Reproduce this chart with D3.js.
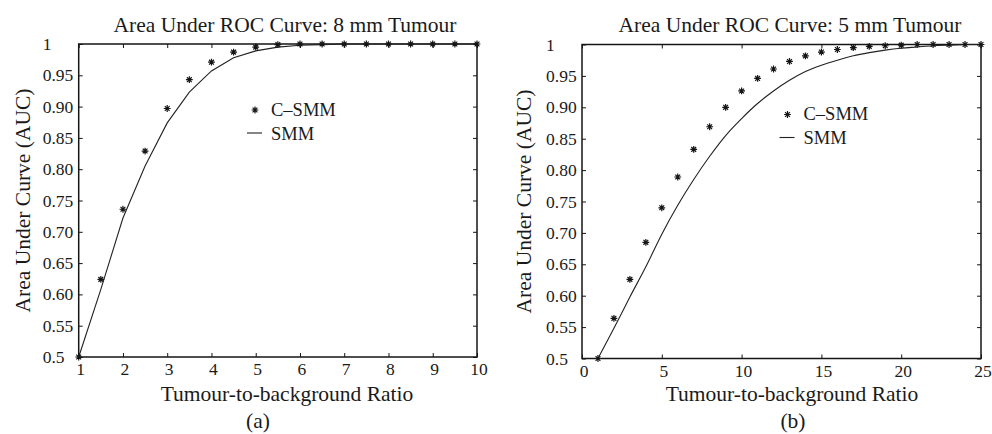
<!DOCTYPE html>
<html>
<head>
<meta charset="utf-8">
<script src="https://cdn.jsdelivr.net/npm/d3@7"></script>
<style>
  html, body { margin: 0; padding: 0; background: #fff; }
  svg { display: block; }
  text { font-family: "Liberation Serif", "Times New Roman", "DejaVu Serif", serif; fill: #1a1a1a; }
</style>
</head>
<body>
<svg id="fig" width="992" height="434"></svg>
<script>
// Tumour-to-background ratios and AUC values, 8 mm tumour
const ratioA = [1, 1.5, 2, 2.5, 3, 3.5, 4, 4.5, 5, 5.5, 6, 6.5, 7, 7.5, 8, 8.5, 9, 9.5, 10];
const csmmA  = [0.5, 0.624, 0.736, 0.829, 0.897, 0.943, 0.971, 0.987, 0.995, 0.999, 1, 1, 1, 1, 1, 1, 1, 1, 1];
const smmA   = [0.5, 0.608, 0.722, 0.805, 0.874, 0.923, 0.957, 0.978, 0.989, 0.995, 0.998, 0.999, 1, 1, 1, 1, 1, 1, 1];

// Tumour-to-background ratios and AUC values, 5 mm tumour
const ratioB = [1, 2, 3, 4, 5, 6, 7, 8, 9, 10, 11, 12, 13, 14, 15, 16, 17, 18, 19, 20, 21, 22, 23, 24, 25];
const csmmB  = [0.5, 0.564, 0.626, 0.685, 0.740, 0.789, 0.833, 0.869, 0.900, 0.926, 0.946, 0.961, 0.973,
                0.982, 0.988, 0.992, 0.995, 0.997, 0.998, 0.999, 1, 1, 1, 1, 1];
const smmB   = [0.5, 0.548, 0.598, 0.646, 0.698, 0.744, 0.785, 0.822, 0.855, 0.882, 0.906, 0.926, 0.943,
                0.957, 0.967, 0.975, 0.982, 0.987, 0.991, 0.994, 0.996, 0.998, 0.999, 1, 1];

// Axis ticks
const yTicks = [0.5, 0.55, 0.6, 0.65, 0.7, 0.75, 0.8, 0.85, 0.9, 0.95, 1];
const yTickLabels = ["0.5", "0.55", "0.60", "0.65", "0.70", "0.75", "0.80", "0.85", "0.90", "0.95", "1"];
const xTicksA = [1, 2, 3, 4, 5, 6, 7, 8, 9, 10];
const xTicksB = [0, 5, 10, 15, 20, 25];

const seriesNames = ["C\u2013SMM", "SMM"];
const titles = ["Area Under ROC Curve: 8 mm Tumour", "Area Under ROC Curve: 5 mm Tumour"];
const xLabel = "Tumour-to-background Ratio";
const yLabel = "Area Under Curve (AUC)";
const panelTags = ["(a)", "(b)"];

const svg = d3.select("#fig");
const INK = "#151515";

// Asterisk marker: a plus overlaid with a cross
function asterisk(cx, cy, r) {
  const p = d3.path();
  const d = r * Math.SQRT1_2;
  p.moveTo(cx - r, cy); p.lineTo(cx + r, cy);
  p.moveTo(cx, cy - r); p.lineTo(cx, cy + r);
  p.moveTo(cx - d, cy - d); p.lineTo(cx + d, cy + d);
  p.moveTo(cx - d, cy + d); p.lineTo(cx + d, cy - d);
  return p.toString();
}

function drawPanel(cfg) {
  const g = svg.append("g");
  const x = d3.scaleLinear().domain(cfg.xDomain).range([cfg.left, cfg.right]);
  const y = d3.scaleLinear().domain([0.5, 1]).range([cfg.bottom, cfg.top]);
  const tickLen = 4;

  // Inward ticks on all four sides
  const axisStyle = sel => {
    sel.select(".domain").remove();
    sel.selectAll(".tick line").attr("stroke", INK).attr("stroke-width", 1);
  };
  g.append("g").attr("transform", `translate(0,${cfg.bottom})`)
    .call(d3.axisTop(x).tickValues(cfg.xTicks).tickSize(tickLen).tickFormat(""))
    .call(axisStyle);
  g.append("g").attr("transform", `translate(0,${cfg.top})`)
    .call(d3.axisBottom(x).tickValues(cfg.xTicks).tickSize(tickLen).tickFormat(""))
    .call(axisStyle);
  g.append("g").attr("transform", `translate(${cfg.left},0)`)
    .call(d3.axisRight(y).tickValues(yTicks).tickSize(tickLen).tickFormat(""))
    .call(axisStyle);
  g.append("g").attr("transform", `translate(${cfg.right},0)`)
    .call(d3.axisLeft(y).tickValues(yTicks).tickSize(tickLen).tickFormat(""))
    .call(axisStyle);

  // Y tick labels, left-aligned
  g.append("g").selectAll("text").data(yTicks).join("text")
    .attr("x", cfg.left - 36)
    .attr("y", d => y(d) + 6)
    .attr("font-size", 17.5)
    .text((d, i) => yTickLabels[i]);

  // X tick labels
  g.append("g").selectAll("text").data(cfg.xTicks).join("text")
    .attr("x", d => x(d) + 2)
    .attr("y", cfg.bottom + 18)
    .attr("text-anchor", "middle")
    .attr("font-size", 17.5)
    .text(d => d);

  // Frame
  g.append("rect")
    .attr("x", cfg.left).attr("y", cfg.top)
    .attr("width", cfg.right - cfg.left).attr("height", cfg.bottom - cfg.top)
    .attr("fill", "none").attr("stroke", INK).attr("stroke-width", 1.5);

  // SMM curve
  const line = d3.line().x(d => x(d[0])).y(d => y(d[1])).curve(cfg.curve);
  g.append("path")
    .datum(cfg.ratio.map((r, i) => [r, cfg.smm[i]]))
    .attr("d", line)
    .attr("fill", "none").attr("stroke", "#222").attr("stroke-width", 1.1);

  // C-SMM markers
  g.append("g").selectAll("path").data(cfg.ratio.map((r, i) => [r, cfg.csmm[i]])).join("path")
    .attr("d", d => asterisk(x(d[0]), y(d[1]), 3.4))
    .attr("stroke", INK).attr("stroke-width", 1.2).attr("fill", "none");

  // Legend
  const lg = g.append("g");
  lg.append("path")
    .attr("d", asterisk(cfg.legendX + 8, cfg.legendY, 3.4))
    .attr("stroke", INK).attr("stroke-width", 1.2);
  lg.append("text").attr("x", cfg.legendX + 24).attr("y", cfg.legendY + 5.5)
    .attr("font-size", 18.5).text(seriesNames[0]);
  lg.append("line")
    .attr("x1", cfg.legendX).attr("x2", cfg.legendX + 15)
    .attr("y1", cfg.legendY + 23).attr("y2", cfg.legendY + 23)
    .attr("stroke", "#222").attr("stroke-width", 1.1);
  lg.append("text").attr("x", cfg.legendX + 24).attr("y", cfg.legendY + 29.5)
    .attr("font-size", 18.5).text(seriesNames[1]);

  // Title, axis labels and panel tag
  g.append("text").attr("x", cfg.titleX).attr("y", 32)
    .attr("text-anchor", "middle").attr("font-size", 21.5).text(cfg.title);
  g.append("text").attr("x", cfg.titleX + 2).attr("y", 401)
    .attr("text-anchor", "middle").attr("font-size", 21.5).text(xLabel);
  g.append("text")
    .attr("transform", `translate(${cfg.yLabelX},${(cfg.top + cfg.bottom) / 2}) rotate(-90)`)
    .attr("text-anchor", "middle").attr("font-size", 21.5).text(yLabel);
  g.append("text").attr("x", cfg.tagX).attr("y", 428)
    .attr("text-anchor", "middle").attr("font-size", 21.5).text(cfg.tag);
}

drawPanel({
  xDomain: [1, 10], xTicks: xTicksA,
  left: 78.7, right: 477, top: 44, bottom: 357,
  ratio: ratioA, csmm: csmmA, smm: smmA, curve: d3.curveLinear,
  legendX: 247, legendY: 110,
  title: titles[0], titleX: 285, yLabelX: 30, tag: panelTags[0], tagX: 258
});

drawPanel({
  xDomain: [0, 25], xTicks: xTicksB,
  left: 582, right: 981, top: 44.5, bottom: 358.5,
  ratio: ratioB, csmm: csmmB, smm: smmB, curve: d3.curveMonotoneX,
  legendX: 779.5, legendY: 114.5,
  title: titles[1], titleX: 790, yLabelX: 531, tag: panelTags[1], tagX: 793
});
</script>
</body>
</html>
